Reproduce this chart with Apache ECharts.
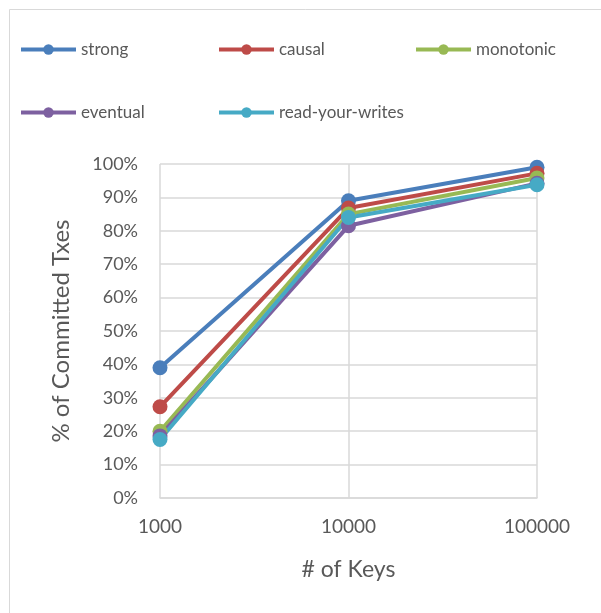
<!DOCTYPE html>
<html>
<head>
<meta charset="utf-8">
<script src="https://cdn.jsdelivr.net/npm/echarts@6/dist/echarts.min.js"></script>
<style>
  html, body { margin: 0; padding: 0; background: #fff; }
  #chart { width: 601px; height: 613px; }
</style>
</head>
<body>
<div id="chart"></div>
<script>
// Key counts on the x axis
const keys = ['1000', '10000', '100000'];

// Percentage of committed transactions per consistency level
const strong = [39, 89, 99];
const causal = [27.3, 86.8, 97.2];
const monotonic = [20, 85, 95.8];
const eventual = [18.6, 81.5, 94.2];
const readYourWrites = [17.5, 84, 93.8];

const seriesNames = ['strong', 'causal', 'monotonic', 'eventual', 'read-your-writes'];
const seriesData = [strong, causal, monotonic, eventual, readYourWrites];
const colors = ['#4a7ebb', '#be4b48', '#98b954', '#7d60a0', '#46aac5'];

const font = 'Lato, "Open Sans", sans-serif';
const textColor = '#595959';

// Legend entries laid out in a three-column grid
const legendPos = [
  { left: 19, top: 41 },
  { left: 217, top: 41 },
  { left: 414, top: 41 },
  { left: 19, top: 104 },
  { left: 217, top: 104 }
];

const chart = echarts.init(document.getElementById('chart'));
chart.setOption({
  animation: false,
  backgroundColor: '#fff',
  graphic: [{
    type: 'rect',
    shape: { x: 9.5, y: 9.5, width: 700, height: 700 },
    style: { fill: 'none', stroke: '#d9d9d9', lineWidth: 1 },
    silent: true
  }],
  legend: seriesNames.map((name, i) => ({
    data: [name],
    left: legendPos[i].left,
    top: legendPos[i].top,
    itemWidth: 55,
    itemHeight: 13,
    itemGap: 4,
    padding: 0,
    lineStyle: { width: 4 },
    textStyle: { fontFamily: font, fontSize: 17, color: textColor, padding: [0, 0, 0, 0] }
  })),
  grid: { left: 160, right: 64, top: 164, bottom: 115 },
  xAxis: {
    type: 'category',
    data: keys,
    boundaryGap: false,
    name: '# of Keys',
    nameLocation: 'middle',
    nameGap: 60,
    nameTextStyle: { fontFamily: font, fontSize: 23, color: textColor },
    axisLine: { lineStyle: { color: '#d9d9d9', width: 1.5 } },
    axisTick: { show: false },
    axisLabel: { fontFamily: font, fontSize: 19, color: textColor, margin: 19 },
    splitLine: { show: true, lineStyle: { color: '#d9d9d9', width: 1.5 } }
  },
  yAxis: {
    type: 'value',
    min: 0,
    max: 100,
    interval: 10,
    name: '% of Committed Txes',
    nameLocation: 'middle',
    nameGap: 87,
    nameTextStyle: { fontFamily: font, fontSize: 24, color: textColor },
    axisLine: { show: false },
    axisTick: { show: false },
    axisLabel: { fontFamily: font, fontSize: 18, color: textColor, margin: 22, formatter: '{value}%' },
    splitLine: { show: true, lineStyle: { color: '#d9d9d9', width: 1.5 } }
  },
  series: seriesNames.map((name, i) => ({
    name: name,
    type: 'line',
    data: seriesData[i],
    symbol: 'circle',
    symbolSize: 15,
    color: colors[i],
    lineStyle: { width: 4, color: colors[i] },
    itemStyle: { color: colors[i] }
  }))
});
</script>
</body>
</html>
